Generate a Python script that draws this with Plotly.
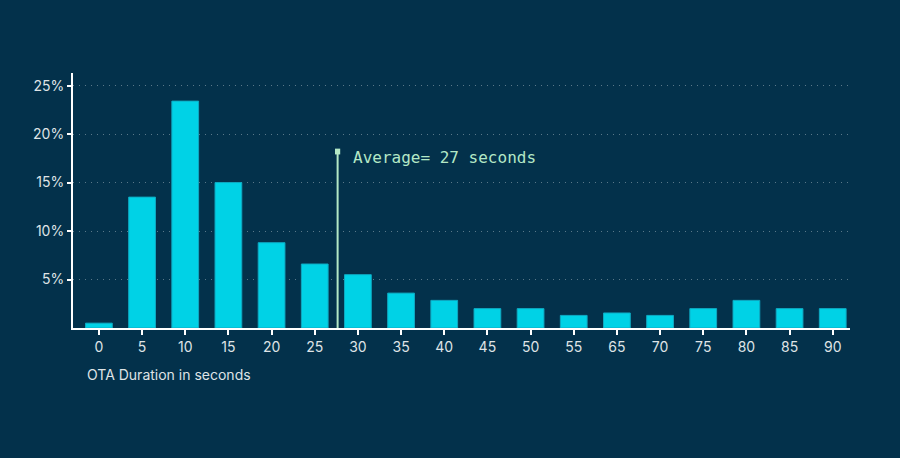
import plotly.graph_objects as go

# durations (seconds) and share of OTA updates (%)
durations = ["0", "5", "10", "15", "20", "25", "30", "35", "40", "45",
             "50", "55", "65", "70", "75", "80", "85", "90"]
share_pct = [0.5, 13.5, 23.4, 15.0, 8.8, 6.6, 5.5, 3.6, 2.85, 2.0,
             2.0, 1.3, 1.55, 1.3, 2.0, 2.85, 2.0, 2.0]
y_ticks = [5, 10, 15, 20, 25]
y_tick_text = ["5%", "10%", "15%", "20%", "25%"]

avg_seconds = 27
avg_pos = 5.53  # category position of the average marker as drawn
avg_top = 18.2

BG = "#03314b"
BAR = "#00d2e6"
AVG = "#b4e8c6"
TXT = "#dfe3e6"

fig = go.Figure()

fig.add_trace(
    go.Bar(
        x=durations,
        y=share_pct,
        marker=dict(color=BAR, line=dict(color="#0fa9c2", width=1)),
        hoverinfo="x+y",
    )
)

# average line with small square cap
fig.add_shape(
    type="line", xref="x", yref="y",
    x0=avg_pos, x1=avg_pos, y0=0, y1=avg_top,
    line=dict(color=AVG, width=2),
)
fig.add_shape(
    type="rect", xref="x", yref="y",
    x0=avg_pos - 0.06, x1=avg_pos + 0.06, y0=avg_top - 0.3, y1=avg_top + 0.3,
    line=dict(width=0), fillcolor=AVG,
)
fig.add_annotation(
    x=avg_pos + 0.3, y=avg_top - 0.6, xref="x", yref="y",
    text="Average= %d seconds" % avg_seconds,
    showarrow=False, xanchor="left", yanchor="middle",
    font=dict(family="DejaVu Sans Mono", size=16, color=AVG),
)

# x axis title, left aligned under the first ticks
fig.add_annotation(
    xref="paper", yref="paper", x=(85 - 73) / 777, y=-(374 - 328) / 255,
    text="OTA Duration in seconds", showarrow=False,
    xanchor="left", yanchor="middle",
    font=dict(size=14, color=TXT),
)

fig.update_layout(
    width=900,
    height=458,
    paper_bgcolor=BG,
    plot_bgcolor=BG,
    margin=dict(l=73, r=50, t=73, b=130),
    showlegend=False,
    bargap=0.38,
    font=dict(family="Inter", size=14, color=TXT),
)

fig.update_xaxes(
    type="category",
    range=[-0.6, 17.4],
    showline=True, linecolor="white", linewidth=2,
    ticks="outside", ticklen=5, tickwidth=2, tickcolor="white",
    showgrid=False,
    tickfont=dict(size=14, color=TXT),
)
fig.update_yaxes(
    range=[0, 26.3],
    tickvals=y_ticks, ticktext=y_tick_text,
    showline=True, linecolor="white", linewidth=2,
    ticks="outside", ticklen=4, tickwidth=2, tickcolor="white",
    showgrid=True, gridcolor="rgba(255,255,255,0.35)", griddash="1px,5px", gridwidth=1,
    zeroline=False,
    tickfont=dict(size=14, color=TXT),
)

fig.write_html(
    "out.html",
    config={"displayModeBar": False},
    post_script="document.body.style.margin='0';",
)
